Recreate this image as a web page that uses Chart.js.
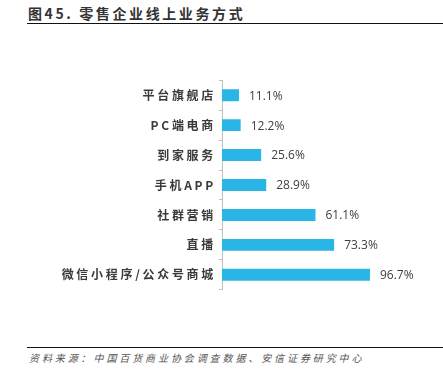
<!DOCTYPE html>
<html>
<head>
<meta charset="utf-8">
<script src="https://cdn.jsdelivr.net/npm/chart.js@4"></script>
<style>
    body { margin: 0; width: 443px; height: 369px; background: #fff; position: relative; overflow: hidden; }
    #title { position: absolute; left: 28px; top: 3px; font: bold 14px "Noto Sans CJK SC"; letter-spacing: 2.6px; color: #333; white-space: nowrap; }
    .rule { position: absolute; left: 27px; right: 0; height: 0; border-top: 1.5px solid #111; }
    #source { position: absolute; left: 29px; top: 350px; font: italic 10px "Noto Sans CJK SC"; letter-spacing: 2.9px; color: #555; white-space: nowrap; }
    #wrap { position: absolute; left: 0; top: 70px; width: 443px; height: 230px; }
</style>
</head>
<body>
<div id="title">图45. 零售企业线上业务方式</div>
<div class="rule" style="top:23px"></div>
<div id="wrap"><canvas id="chart"></canvas></div>
<div class="rule" style="top:347px;border-top-width:1px"></div>
<div id="source">资料来源：中国百货商业协会调查数据、安信证券研究中心</div>
<script>
// Categories and values (percent of retailers)
const categories = ['平台旗舰店', 'PC端电商', '到家服务', '手机APP', '社群营销', '直播', '微信小程序/公众号商城'];
const values = [11.1, 12.2, 25.6, 28.9, 61.1, 73.3, 96.7];

const barColor = '#29b6e6';

// Draw value labels at the end of each bar
const valueLabels = {
    id: 'valueLabels',
    beforeDraw(chart) {
        chart.ctx.letterSpacing = '2.7px';
    },
    afterDatasetsDraw(chart) {
        const ctx = chart.ctx;
        const meta = chart.getDatasetMeta(0);
        ctx.save();
        ctx.letterSpacing = '0px';
        ctx.font = '12px "Open Sans"';
        ctx.fillStyle = '#404040';
        ctx.textBaseline = 'middle';
        meta.data.forEach((bar, i) => {
            ctx.fillText(values[i].toFixed(1) + '%', bar.x + 10, bar.y + 1);
        });
        ctx.restore();
    }
};

new Chart(document.getElementById('chart'), {
    type: 'bar',
    data: {
        labels: categories,
        datasets: [{
            data: values,
            backgroundColor: barColor,
            borderWidth: 0,
            categoryPercentage: 1,
            barPercentage: 0.4
        }]
    },
    options: {
        indexAxis: 'y',
        responsive: true,
        maintainAspectRatio: false,
        animation: false,
        layout: { padding: { top: 10, bottom: 9, right: 68, left: 0 } },
        scales: {
            x: { display: false, min: 0, max: 100 },
            y: {
                afterFit(scale) { scale.width = 222; },
                border: { display: true, color: '#bfbfbf', width: 1 },
                grid: { drawOnChartArea: false, drawTicks: true, tickLength: 3, color: '#bfbfbf', offset: true },
                ticks: {
                    color: '#3a3a3a',
                    padding: 3,
                    font: { family: '"Noto Sans CJK SC"', size: 12, weight: 'bold' }
                }
            }
        },
        plugins: {
            legend: { display: false },
            tooltip: { enabled: false }
        }
    },
    plugins: [valueLabels]
});
</script>
</body>
</html>
